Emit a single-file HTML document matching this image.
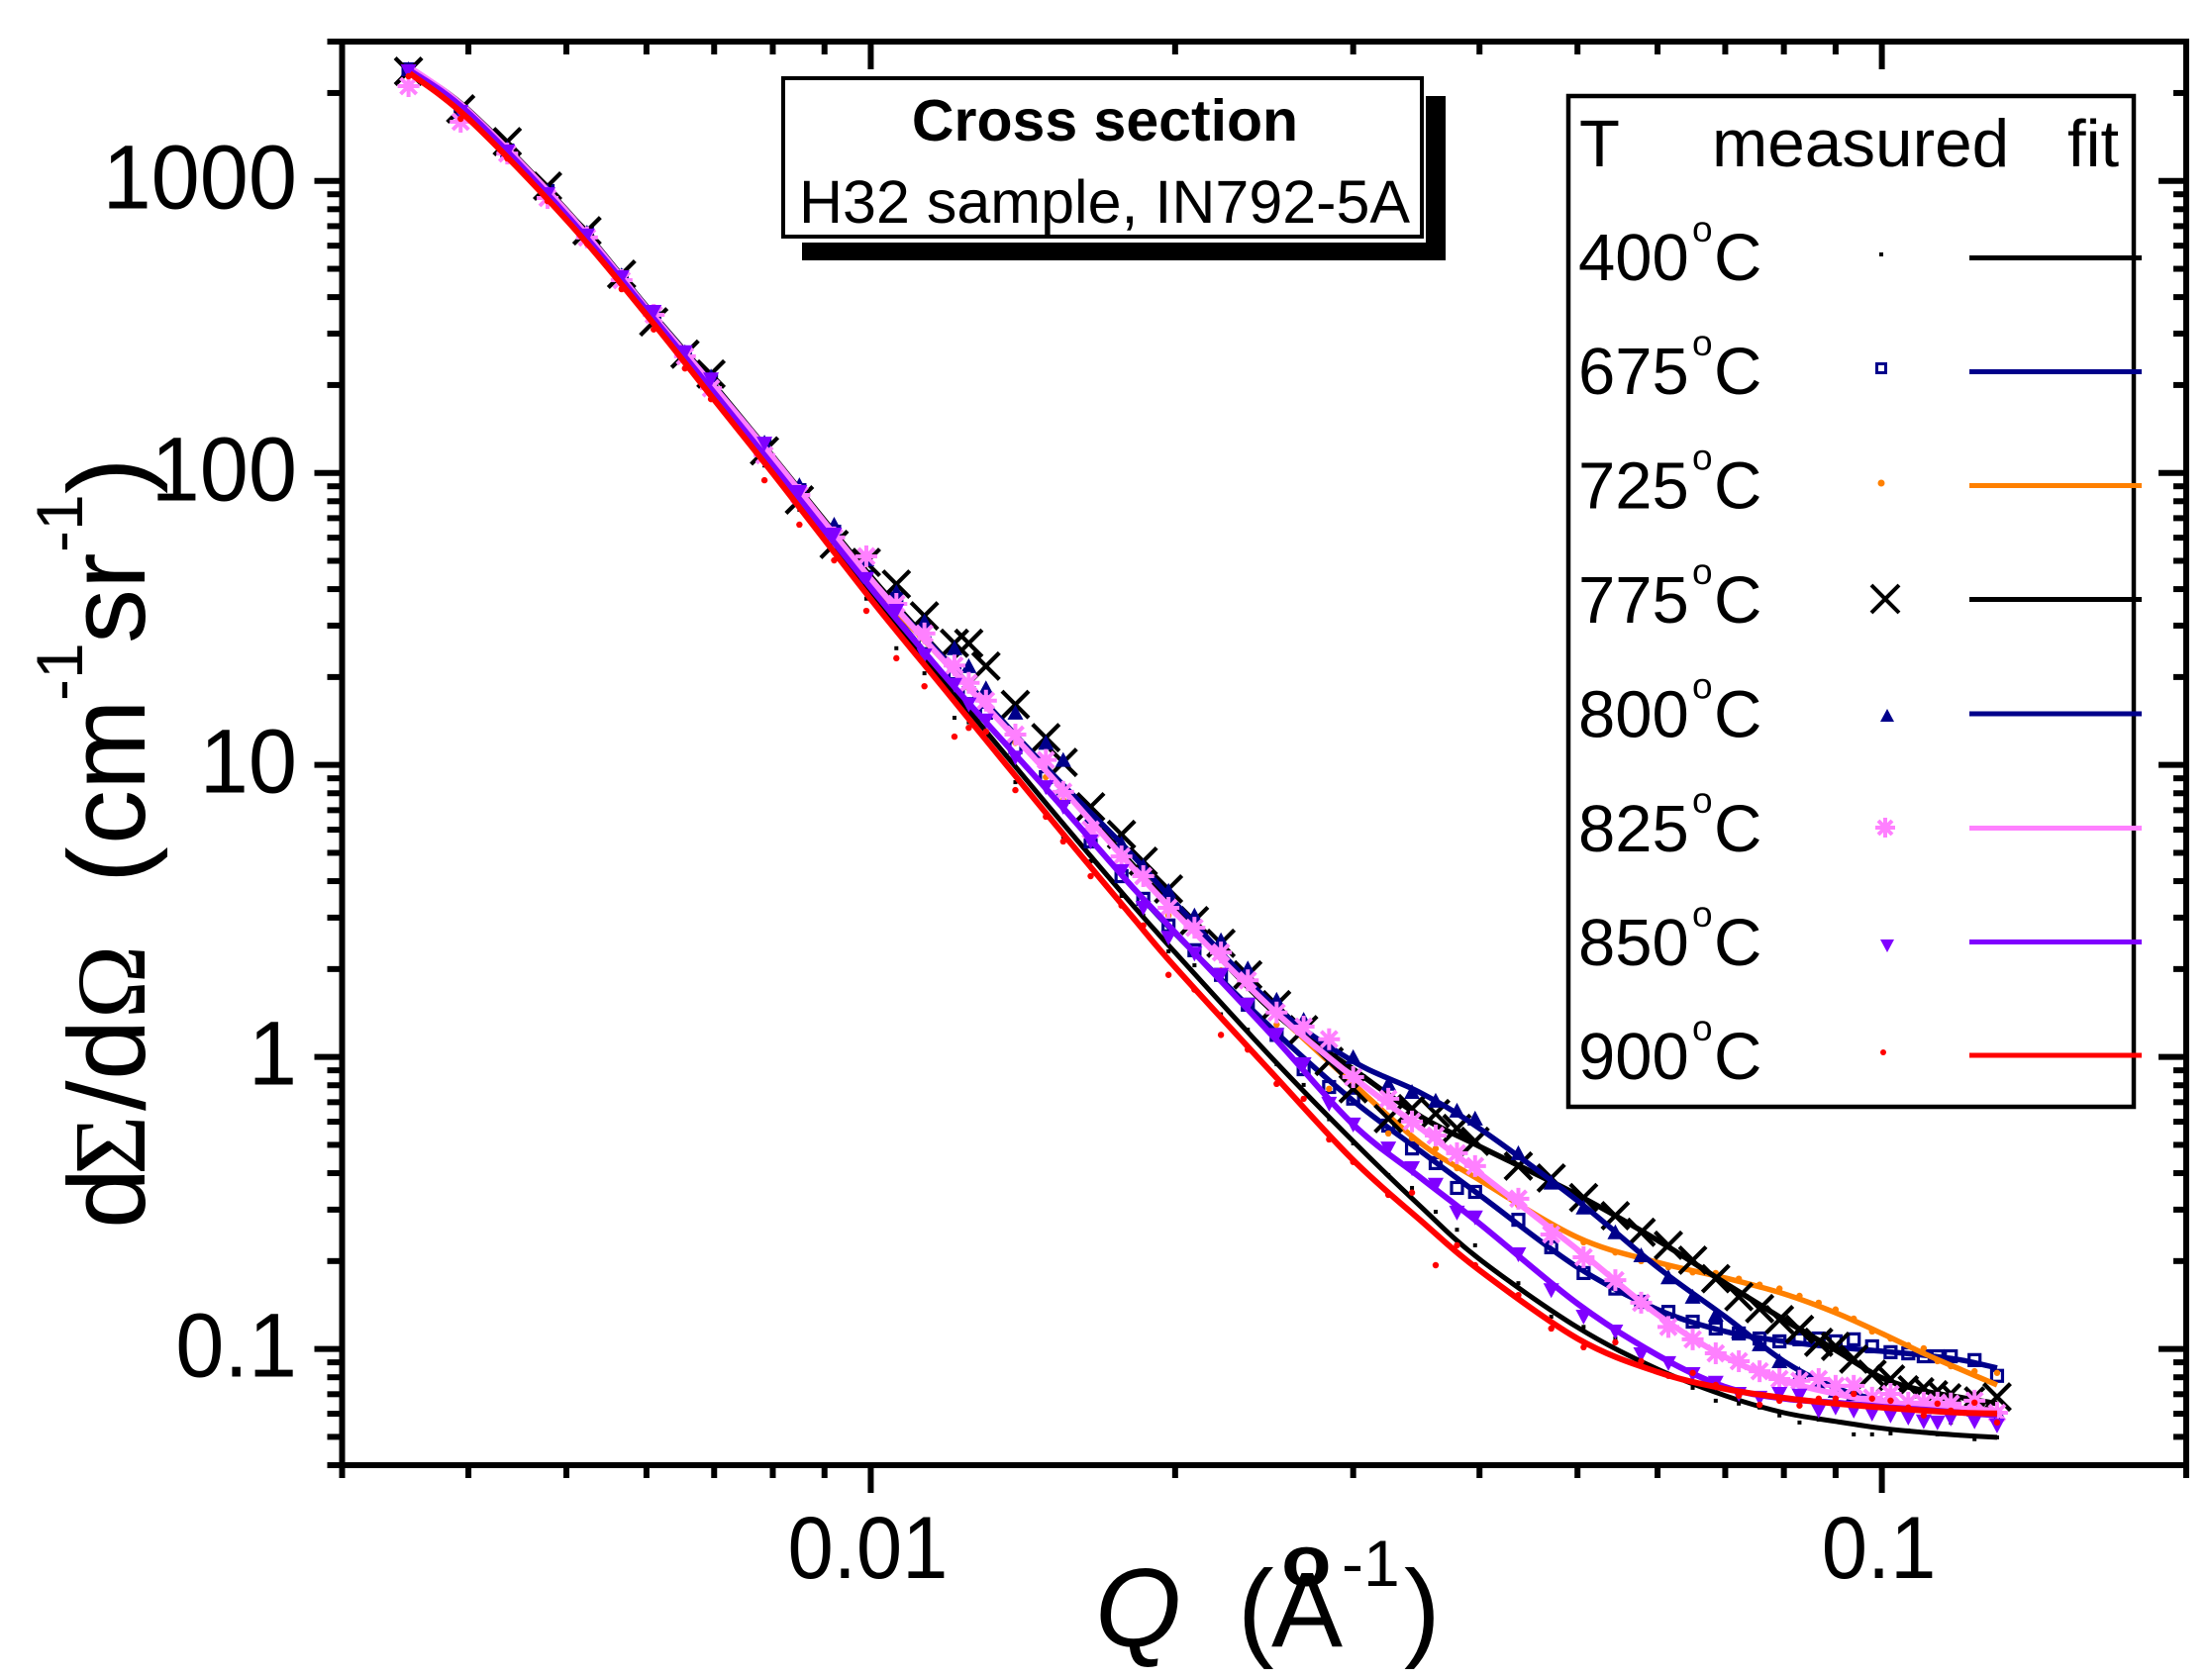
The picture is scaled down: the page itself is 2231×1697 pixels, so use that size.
<!DOCTYPE html>
<html lang="en">
<head>
<meta charset="utf-8">
<title>Cross section H32 sample</title>
<style>
html,body{margin:0;padding:0;background:#fff;}
svg{display:block;}
text{font-family:"Liberation Sans",Arial,sans-serif;fill:#000;}
.serif{font-family:"Liberation Serif","DejaVu Serif",serif;}
.tick-label{font-size:92px;}
.tick-label-x{font-size:89px;}
.lg{font-size:67px;}
.deg{font-size:37px;}
</style>
</head>
<body>
<svg id="chart" xmlns="http://www.w3.org/2000/svg" width="2231" height="1697" viewBox="0 0 2231 1697">
  <rect x="0" y="0" width="2231" height="1697" fill="#fff"/>
  <g id="series-layer"></g>
  <g id="axes-layer"></g>

  <g>
    <text transform="translate(146,1241) rotate(-90)" font-size="110">d</text>
    <text class="serif" transform="translate(146,1187) rotate(-90)" font-size="104">Σ</text>
    <text transform="translate(146,1122) rotate(-90)" font-size="110">/</text>
    <text transform="translate(146,1091) rotate(-90)" font-size="110">d</text>
    <text class="serif" transform="translate(146,1029) rotate(-90)" font-size="100">Ω</text>
    <text transform="translate(146,892) rotate(-90)" font-size="110">(</text>
    <text transform="translate(146,853) rotate(-90)" font-size="110">cm</text>
    <text transform="translate(83,708) rotate(-90)" font-size="66">-1</text>
    <text transform="translate(146,650) rotate(-90)" font-size="110">sr</text>
    <text transform="translate(83,558) rotate(-90)" font-size="66">-1</text>
    <text transform="translate(146,499) rotate(-90)" font-size="110">)</text>
  </g>

  <g>
    <text x="1106" y="1663" font-size="112" font-style="italic">Q</text>
    <text x="1250" y="1663" font-size="110">(</text>
    <text x="1284" y="1663" font-size="108">A</text>
    <text transform="translate(1294,1602) scale(1.15,1)" font-size="72" font-weight="bold">o</text>
    <text x="1355" y="1602" font-size="66">-1</text>
    <text x="1418" y="1663" font-size="110">)</text>
  </g>

  <g>
    <rect x="1440" y="97" width="20" height="166" fill="#000"/>
    <rect x="810" y="245" width="650" height="18" fill="#000"/>
    <rect x="791" y="79" width="645" height="160" fill="#fff" stroke="#000" stroke-width="4"/>
    <text x="1116" y="142" font-size="59" font-weight="bold" text-anchor="middle">Cross section</text>
    <text x="807" y="225" font-size="61">H32 sample, IN792-5A</text>
  </g>

  <g>
    <rect x="1584" y="97" width="571" height="1021" fill="#fff" stroke="#000" stroke-width="4.5"/>
    <text class="lg" x="1595" y="168">T</text>
    <text x="1729" y="168" font-size="67.5">measured</text>
    <text class="lg" x="2088" y="168">fit</text>

    <g>
      <text class="lg" x="1594" y="283">400</text><text class="deg" x="1709" y="244">o</text><text class="lg" x="1731" y="283">C</text>
      <rect x="1898" y="255" width="4" height="4" fill="#000"/>
      <line x1="1989" x2="2163" y1="260.5" y2="260.5" stroke="#000" stroke-width="5"/>
    </g>
    <g>
      <text class="lg" x="1594" y="398">675</text><text class="deg" x="1709" y="359">o</text><text class="lg" x="1731" y="398">C</text>
      <rect x="1895.5" y="367.5" width="9" height="9" fill="none" stroke="#00008b" stroke-width="3"/>
      <line x1="1989" x2="2163" y1="375.5" y2="375.5" stroke="#00008b" stroke-width="5"/>
    </g>
    <g>
      <text class="lg" x="1594" y="513.5">725</text><text class="deg" x="1709" y="474.5">o</text><text class="lg" x="1731" y="513.5">C</text>
      <circle cx="1900" cy="488" r="3.5" fill="#ff8000"/>
      <line x1="1989" x2="2163" y1="490.5" y2="490.5" stroke="#ff8000" stroke-width="5"/>
    </g>
    <g>
      <text class="lg" x="1594" y="629">775</text><text class="deg" x="1709" y="590">o</text><text class="lg" x="1731" y="629">C</text>
      <path d="M1890 591 L1918 619 M1918 591 L1890 619" fill="none" stroke="#000" stroke-width="4"/>
      <line x1="1989" x2="2163" y1="605.5" y2="605.5" stroke="#000" stroke-width="5"/>
    </g>
    <g>
      <text class="lg" x="1594" y="744.5">800</text><text class="deg" x="1709" y="705.5">o</text><text class="lg" x="1731" y="744.5">C</text>
      <path d="M1906 716 L1913 729 L1899 729 Z" fill="#00008b"/>
      <line x1="1989" x2="2163" y1="721" y2="721" stroke="#00008b" stroke-width="5"/>
    </g>
    <g>
      <text class="lg" x="1594" y="860">825</text><text class="deg" x="1709" y="821">o</text><text class="lg" x="1731" y="860">C</text>
      <path d="M1904 826 V846 M1894 836 H1914 M1897 829 L1911 843 M1911 829 L1897 843" fill="none" stroke="#ff80ff" stroke-width="4"/>
      <line x1="1989" x2="2163" y1="836.5" y2="836.5" stroke="#ff80ff" stroke-width="5"/>
    </g>
    <g>
      <text class="lg" x="1594" y="975">850</text><text class="deg" x="1709" y="936">o</text><text class="lg" x="1731" y="975">C</text>
      <path d="M1899 949 L1913 949 L1906 962 Z" fill="#8000ff"/>
      <line x1="1989" x2="2163" y1="951.5" y2="951.5" stroke="#8000ff" stroke-width="5"/>
    </g>
    <g>
      <text class="lg" x="1594" y="1090">900</text><text class="deg" x="1709" y="1051">o</text><text class="lg" x="1731" y="1090">C</text>
      <circle cx="1902" cy="1063" r="3" fill="#ff0000"/>
      <line x1="1989" x2="2163" y1="1066" y2="1066" stroke="#ff0000" stroke-width="5"/>
    </g>
  </g>
</svg>

<script>
const xMajorTicks = [0.01, 0.1];
const xMajorLabels = ['0.01', '0.1'];
const xMinorTicks = [0.003, 0.004, 0.005, 0.006, 0.007, 0.008, 0.009, 0.02, 0.03, 0.04, 0.05, 0.06, 0.07, 0.08, 0.09, 0.2];
const yMajorTicks = [0.1, 1, 10, 100, 1000];
const yMajorLabels = ['0.1', '1', '10', '100', '1000'];
const yMinorTicks = [0.04, 0.05, 0.06, 0.07, 0.08, 0.09, 0.2, 0.3, 0.4, 0.5, 0.6, 0.7, 0.8, 0.9, 2, 3, 4, 5, 6, 7, 8, 9, 20, 30, 40, 50, 60, 70, 80, 90, 200, 300, 400, 500, 600, 700, 800, 900, 2000, 3000];

const qFit = [0.0035, 0.004, 0.005, 0.006, 0.007, 0.008, 0.01, 0.012, 0.015, 0.018, 0.02, 0.025, 0.03, 0.035, 0.04, 0.05, 0.06, 0.07, 0.08, 0.09, 0.1, 0.11, 0.12, 0.13];
const fit400 = [2374, 1683, 753, 353, 182, 104, 38.5, 18.2, 7.19, 3.43, 2.28, 0.982, 0.514, 0.307, 0.203, 0.1186, 0.0853, 0.0692, 0.0605, 0.0565, 0.0535, 0.0518, 0.0506, 0.0498];
const fit675 = [2410, 1723, 778, 365, 190.5, 108, 41, 19.1, 8.09, 3.94, 2.65, 1.24, 0.708, 0.475, 0.337, 0.1905, 0.1365, 0.1148, 0.1062, 0.1014, 0.0982, 0.0952, 0.0916, 0.0861];
const fit725 = [2410, 1723, 778, 365, 195, 112, 42.3, 21.4, 9.31, 4.6, 3.12, 1.45, 0.809, 0.506, 0.379, 0.241, 0.198, 0.175, 0.1545, 0.133, 0.113, 0.0966, 0.0847, 0.0753];
const fit775 = [2429, 1750, 796, 372, 200, 114, 44.2, 22, 9.5, 4.7, 3.2, 1.43, 0.908, 0.625, 0.494, 0.337, 0.2355, 0.168, 0.126, 0.0991, 0.0796, 0.0719, 0.0681, 0.065];
const fit800 = [2429, 1737, 789, 370, 198, 113, 43.3, 21.9, 9.59, 5.06, 3.37, 1.51, 0.966, 0.753, 0.569, 0.322, 0.1905, 0.129, 0.0908, 0.0736, 0.0665, 0.063, 0.061, 0.0592];
const fit825 = [2449, 1737, 789, 368, 197, 113, 43.3, 21.4, 9.31, 4.6, 3.12, 1.45, 0.853, 0.569, 0.4, 0.219, 0.131, 0.0938, 0.0778, 0.0702, 0.0659, 0.064, 0.0625, 0.0615];
const fit850 = [2392, 1710, 765, 362, 188, 106, 40.4, 19.1, 8.09, 3.94, 2.67, 1.175, 0.587, 0.385, 0.269, 0.143, 0.0952, 0.0741, 0.0676, 0.0655, 0.0634, 0.062, 0.0605, 0.0592];
const fit900 = [2336, 1632, 736, 348, 178, 99.8, 37, 17.1, 6.65, 3.12, 2.03, 0.873, 0.443, 0.275, 0.186, 0.1086, 0.0834, 0.073, 0.068, 0.065, 0.063, 0.0615, 0.0605, 0.0601];

const qMeasured = [0.00349, 0.00393, 0.00437, 0.00479, 0.00524, 0.00567, 0.0061, 0.00655, 0.00695, 0.00785, 0.0092, 0.0106, 0.0121, 0.013, 0.0139, 0.0149, 0.0155, 0.0177, 0.0197, 0.0222, 0.0252, 0.0284, 0.0325, 0.0362, 0.0396, 0.0437, 0.0471, 0.0507, 0.0545, 0.0578, 0.0615, 0.065, 0.0685, 0.0722, 0.0757, 0.0792, 0.0829, 0.0866, 0.09, 0.0938, 0.0978, 0.102, 0.1062, 0.11, 0.1135, 0.117, 0.1235, 0.13];
const meas400 = [2374, 1697, 1222, 874, 620, 433, 322, 239, 188, 106, 53.5, 25.1, 14.5, 12.4, 8.73, 6.65, 5.69, 3.56, 2.3, 1.4, 0.944, 0.612, 0.394, 0.295, 0.2265, 0.168, 0.129, 0.119, 0.1086, 0.0923, 0.0881, 0.0736, 0.0665, 0.065, 0.063, 0.0592, 0.056, 0.0573, 0.0565, 0.051, 0.051, 0.0514, 0.0526, 0.0518, 0.051, 0.056, 0.0491, 0.0498];
const meas675 = [2410, 1723, 1271, 923, 660, 472, 353, 255, 206, 124, 62.9, 37.1, 20.6, 15.1, 11.5, 9.08, 7.78, 4.16, 2.82, 1.91, 1.19, 0.789, 0.582, 0.433, 0.345, 0.277, 0.223, 0.182, 0.161, 0.145, 0.134, 0.124, 0.1175, 0.113, 0.1086, 0.1062, 0.1079, 0.1086, 0.1062, 0.1079, 0.1021, 0.0975, 0.0966, 0.0944, 0.0944, 0.0944, 0.0916, 0.0809];
const meas725 = [2336, 1657, 1222, 888, 640, 450, 337, 247, 194, 115, 60.1, 37.1, 21.9, 16.6, 11.9, 9.08, 7.59, 4.75, 3.05, 1.98, 1.29, 0.778, 0.547, 0.486, 0.416, 0.31, 0.261, 0.232, 0.214, 0.2, 0.1905, 0.183, 0.182, 0.174, 0.166, 0.161, 0.152, 0.144, 0.1365, 0.127, 0.1148, 0.1086, 0.103, 0.1005, 0.0908, 0.0873, 0.0839, 0.0828];
const meas775 = [2374, 1764, 1363, 960, 675, 479, 329, 255, 218, 119, 56.9, 41.6, 26.1, 21.8, 16.1, 12.4, 10.2, 5.78, 3.76, 2.45, 1.51, 0.966, 0.615, 0.64, 0.514, 0.423, 0.385, 0.33, 0.286, 0.251, 0.2265, 0.2014, 0.174, 0.151, 0.1374, 0.126, 0.1167, 0.1054, 0.1021, 0.0923, 0.082, 0.0789, 0.0748, 0.0736, 0.0719, 0.0702, 0.0685, 0.0685];
const meas800 = [2410, 1723, 1291, 923, 665, 475, 356, 259, 214, 127, 66.5, 39.1, 25.1, 18.3, 15.1, 11.9, 10.4, 5.38, 3.71, 2.51, 1.57, 1.1, 0.809, 0.708, 0.615, 0.468, 0.371, 0.305, 0.251, 0.2094, 0.176, 0.151, 0.131, 0.1148, 0.1038, 0.0908, 0.082, 0.0759, 0.0719, 0.0702, 0.0681, 0.0665, 0.065, 0.064, 0.064, 0.063, 0.062, 0.061];
const meas825 = [2111, 1594, 1241, 874, 640, 457, 348, 251, 195, 115, 60.1, 35.6, 21.9, 16.6, 12.7, 10.4, 8.09, 4.86, 3.24, 2.28, 1.42, 1.15, 0.719, 0.538, 0.423, 0.327, 0.2466, 0.206, 0.172, 0.144, 0.119, 0.1079, 0.0966, 0.0908, 0.0839, 0.0789, 0.0778, 0.0789, 0.0748, 0.0748, 0.0681, 0.0702, 0.0655, 0.0655, 0.0655, 0.065, 0.0665, 0.0605];
const meas850 = [2374, 1723, 1261, 901, 650, 468, 356, 259, 209, 126, 61.5, 33.7, 18.8, 14.2, 10.6, 8.39, 7.19, 4.33, 2.56, 1.91, 1.19, 0.692, 0.486, 0.365, 0.282, 0.211, 0.159, 0.129, 0.1148, 0.0959, 0.0895, 0.082, 0.0766, 0.0702, 0.0681, 0.0702, 0.0692, 0.0615, 0.063, 0.0615, 0.0601, 0.0592, 0.0582, 0.0565, 0.056, 0.0578, 0.0565, 0.0547];
const meas900 = [2283, 1632, 1194, 853, 610, 426, 310, 228, 179, 94.4, 50.2, 23.2, 12.5, 13, 8.2, 6.65, 5.47, 3.3, 1.91, 1.19, 0.809, 0.522, 0.337, 0.1936, 0.1936, 0.153, 0.1175, 0.1014, 0.1054, 0.0908, 0.0809, 0.0828, 0.0753, 0.0692, 0.0644, 0.0665, 0.064, 0.0676, 0.0676, 0.0702, 0.0676, 0.0665, 0.063, 0.0592, 0.065, 0.0615, 0.0655, 0.056];

const qDense = [0.0085, 0.0099, 0.0113, 0.0125, 0.0165, 0.0186, 0.0209, 0.0236, 0.0268, 0.03, 0.0343, 0.038];
const dense400 = [74.8, 37.1, 20.6, 14, 4.68, 3.05, 2.06, 1.24, 0.802, 0.506, 0.356, 0.256];
const dense675 = [87.3, 44, 26.1, 17.6, 5.47, 3.48, 2.32, 1.51, 0.908, 0.72, 0.486, 0.356];
const dense725 = [87.3, 48.6, 27.1, 18.3, 6.65, 4.16, 2.82, 1.83, 1.19, 0.809, 0.527, 0.416];
const dense775 = [80.8, 49.4, 32.4, 26.1, 7.19, 4.68, 2.93, 1.91, 1.24, 0.778, 0.665, 0.569];
const dense800 = [90.8, 50.6, 31, 21.8, 6.65, 4.5, 3.05, 2.01, 1.34, 0.998, 0.759, 0.655];
const dense825 = [84, 51.8, 28.2, 19.1, 6.01, 4.16, 2.77, 1.83, 1.27, 0.853, 0.601, 0.468];
const dense850 = [86, 43.3, 23.7, 16.1, 5.47, 3.24, 2.26, 1.51, 0.944, 0.587, 0.416, 0.293];
const dense900 = [66.5, 33.7, 18.6, 13.4, 4.16, 2.82, 1.7, 1.06, 0.719, 0.437, 0.343, 0.2265];

const svgNS = 'http://www.w3.org/2000/svg';
const plotLeft = 345.5, plotRight = 2208, plotTop = 42, plotBottom = 1480;
const xMin = 0.003, xMax = 0.2, yMin = 0.04, yMax = 3000;

function xScale(q) {
  return plotLeft + (Math.log10(q) - Math.log10(xMin)) / (Math.log10(xMax) - Math.log10(xMin)) * (plotRight - plotLeft);
}
function yScale(v) {
  return plotTop + (Math.log10(yMax) - Math.log10(v)) / (Math.log10(yMax) - Math.log10(yMin)) * (plotBottom - plotTop);
}
function make(tag, attrs, parent) {
  const el = document.createElementNS(svgNS, tag);
  for (const k in attrs) el.setAttribute(k, attrs[k]);
  parent.appendChild(el);
  return el;
}
function smoothPath(qs, vs) {
  const pts = qs.map((q, i) => [xScale(q), yScale(vs[i])]);
  let d = 'M' + pts[0][0].toFixed(1) + ' ' + pts[0][1].toFixed(1);
  for (let i = 0; i < pts.length - 1; i++) {
    const p0 = pts[Math.max(i - 1, 0)], p1 = pts[i], p2 = pts[i + 1], p3 = pts[Math.min(i + 2, pts.length - 1)];
    const c1x = p1[0] + (p2[0] - p0[0]) / 6, c1y = p1[1] + (p2[1] - p0[1]) / 6;
    const c2x = p2[0] - (p3[0] - p1[0]) / 6, c2y = p2[1] - (p3[1] - p1[1]) / 6;
    d += 'C' + c1x.toFixed(1) + ' ' + c1y.toFixed(1) + ' ' + c2x.toFixed(1) + ' ' + c2y.toFixed(1) + ' ' + p2[0].toFixed(1) + ' ' + p2[1].toFixed(1);
  }
  return d;
}

function drawMarker(kind, color, q, v, parent) {
  const x = xScale(q), y = yScale(v);
  let m;
  if (kind === 'tiny-square') {
    m = make('rect', {x: x - 2, y: y - 2, width: 4, height: 4, fill: color}, parent);
  } else if (kind === 'dot') {
    m = make('circle', {cx: x, cy: y, r: 3.2, fill: color}, parent);
  } else if (kind === 'square') {
    m = make('rect', {x: x - 5.5, y: y - 5.5, width: 11, height: 11, fill: 'none', stroke: color, 'stroke-width': 3.2}, parent);
  } else if (kind === 'cross') {
    const s = (q > 0.105 && q < 0.13) ? 9.5 : 13.5;
    m = make('path', {d: 'M' + (x - s) + ' ' + (y - s) + 'L' + (x + s) + ' ' + (y + s) + 'M' + (x + s) + ' ' + (y - s) + 'L' + (x - s) + ' ' + (y + s), fill: 'none', stroke: color, 'stroke-width': 4.2}, parent);
  } else if (kind === 'triangle-up') {
    m = make('path', {d: 'M' + x + ' ' + (y - 8) + 'L' + (x + 8) + ' ' + (y + 7) + 'L' + (x - 8) + ' ' + (y + 7) + 'Z', fill: color}, parent);
  } else if (kind === 'triangle-down') {
    m = make('path', {d: 'M' + (x - 8) + ' ' + (y - 7) + 'L' + (x + 8) + ' ' + (y - 7) + 'L' + x + ' ' + (y + 8) + 'Z', fill: color}, parent);
  } else {
    const s = 11, k = 8;
    m = make('path', {d: 'M' + x + ' ' + (y - s) + 'V' + (y + s) + 'M' + (x - s) + ' ' + y + 'H' + (x + s) + 'M' + (x - k) + ' ' + (y - k) + 'L' + (x + k) + ' ' + (y + k) + 'M' + (x + k) + ' ' + (y - k) + 'L' + (x - k) + ' ' + (y + k), fill: 'none', stroke: color, 'stroke-width': 4}, parent);
  }
  
  
}

const seriesList = [
  {label: 'series-400c', color: '#000000', marker: 'tiny-square', fit: fit400, measured: meas400, dense: dense400, width: 5},
  {label: 'series-675c', color: '#00008b', marker: 'square', fit: fit675, measured: meas675, dense: dense675, width: 5.5},
  {label: 'series-725c', color: '#ff8000', marker: 'dot', fit: fit725, measured: meas725, dense: dense725, width: 5.5},
  {label: 'series-775c', color: '#000000', marker: 'cross', fit: fit775, measured: meas775, dense: dense775, width: 5.5},
  {label: 'series-800c', color: '#00008b', marker: 'triangle-up', fit: fit800, measured: meas800, dense: dense800, width: 5.5},
  {label: 'series-825c', color: '#ff80ff', marker: 'star', fit: fit825, measured: meas825, dense: dense825, width: 6},
  {label: 'series-850c', color: '#8000ff', marker: 'triangle-down', fit: fit850, measured: meas850, dense: dense850, width: 6},
  {label: 'series-900c', color: '#ff0000', marker: 'dot', fit: fit900, measured: meas900, dense: dense900, width: 6}
];

const seriesLayer = document.getElementById('series-layer');
seriesList.forEach(function (s) {
  const group = make('g', {}, seriesLayer);
  
  
  qMeasured.forEach(function (q, i) {
    drawMarker(s.marker, s.color, q, s.measured[i], group);
  });
  qDense.forEach(function (q, i) {
    drawMarker(s.marker, s.color, q, s.dense[i], group);
  });
  const line = make('path', {d: smoothPath(qFit, s.fit), fill: 'none', stroke: s.color, 'stroke-width': s.width, 'stroke-linejoin': 'round'}, group);
  
  
});

const axes = document.getElementById('axes-layer');
const spineWidth = 6, majorLen = 25, minorLen = 13;

function tickLine(x1, y1, x2, y2, parent) {
  const t = make('line', {x1: x1, y1: y1, x2: x2, y2: y2, stroke: '#000', 'stroke-width': spineWidth}, parent);
  
  
}

xMajorTicks.forEach(function (q) {
  tickLine(xScale(q), plotBottom, xScale(q), plotBottom + 28, axes);
  tickLine(xScale(q), plotTop, xScale(q), plotTop + 28, axes);
});
xMinorTicks.forEach(function (q) {
  tickLine(xScale(q), plotBottom, xScale(q), plotBottom + minorLen, axes);
  tickLine(xScale(q), plotTop, xScale(q), plotTop + minorLen, axes);
});
yMajorTicks.forEach(function (v) {
  tickLine(plotLeft, yScale(v), plotLeft - majorLen - 3, yScale(v), axes);
  tickLine(plotRight, yScale(v), plotRight - majorLen - 3, yScale(v), axes);
});
yMinorTicks.forEach(function (v) {
  tickLine(plotLeft, yScale(v), plotLeft - minorLen - 2, yScale(v), axes);
  tickLine(plotRight, yScale(v), plotRight - minorLen, yScale(v), axes);
});

const frame = make('rect', {x: plotLeft, y: plotTop, width: plotRight - plotLeft, height: plotBottom - plotTop, fill: 'none', stroke: '#000', 'stroke-width': spineWidth}, axes);



xMajorTicks.forEach(function (q, i) {
  const t = make('text', {transform: 'translate(' + (xScale(q) - 3) + ',1594) scale(0.935,1)', 'text-anchor': 'middle', 'class': 'tick-label-x'}, axes);
  t.textContent = xMajorLabels[i];
  
  
});
yMajorTicks.forEach(function (v, i) {
  const t = make('text', {transform: 'translate(300,' + (yScale(v) + 28) + ') scale(0.96,1)', 'text-anchor': 'end', 'class': 'tick-label'}, axes);
  t.textContent = yMajorLabels[i];
  
  
});
</script>
</body>
</html>
